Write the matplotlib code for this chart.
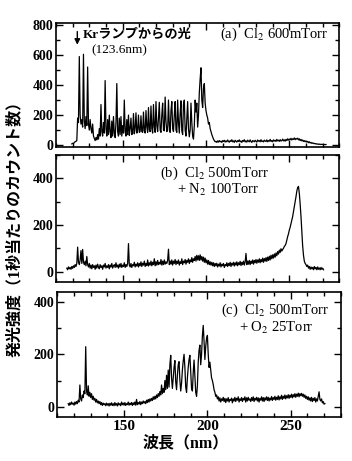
import numpy as np
import matplotlib
matplotlib.use("Agg")
import matplotlib.pyplot as plt
from matplotlib.ticker import MultipleLocator

plt.rcParams['font.family'] = ['Liberation Serif', 'Noto Sans CJK JP']
plt.rcParams['mathtext.fontset'] = 'stix'

# spectra, 0.5 nm steps
start_a = 119.5
cnt_a = [8, 12, 10, 18, 22, 25, 30, 180, 150, 590,
         200, 140, 170, 120, 605, 160, 110, 190, 130, 520,
         140, 100, 170, 110, 80, 140, 60, 45, 30, 50,
         35, 70, 40, 110, 60, 270, 90, 60, 150, 80,
         430, 110, 60, 170, 70, 200, 90, 50, 160, 60,
         190, 80, 50, 150, 410, 90, 60, 180, 70, 190,
         60, 130, 80, 300, 90, 60, 170, 70, 200, 65,
         110, 180, 70, 80, 210, 75, 110, 215, 80, 100,
         200, 85, 90, 195, 90, 85, 220, 95, 80, 230,
         120, 85, 250, 100, 90, 260, 110, 80, 270, 120,
         85, 290, 130, 90, 180, 285, 100, 85, 200, 280,
         100, 95, 320, 160, 90, 100, 300, 130, 85, 230,
         290, 110, 90, 200, 290, 100, 85, 300, 150, 80,
         210, 295, 95, 70, 270, 300, 100, 60, 180, 290,
         110, 55, 100, 280, 150, 60, 40, 130, 300, 220,
         280, 120, 200, 350, 440, 515, 300, 250, 380, 410,
         280, 230, 200, 180, 140, 150, 110, 90, 70, 55,
         40, 30, 22, 25, 18, 28, 20, 30, 22, 26,
         18, 30, 24, 32, 20, 28, 22, 34, 25, 19,
         30, 24, 36, 22, 28, 18, 32, 26, 20, 30,
         24, 35, 22, 27, 18, 31, 25, 36, 21, 28,
         20, 33, 26, 22, 35, 24, 18, 30, 27, 22,
         32, 25, 20, 34, 26, 30, 22, 36, 24, 28,
         21, 33, 27, 24, 35, 22, 30, 26, 38, 24,
         30, 22, 35, 27, 32, 24, 38, 28, 33, 25,
         36, 27, 30, 40, 28, 35, 26, 38, 30, 42,
         33, 40, 36, 45, 34, 42, 38, 48, 36, 44,
         40, 46, 35, 42, 30, 38, 28, 34, 24, 30,
         22, 28, 20, 25, 16, 22, 14, 18, 12, 15,
         10, 12, 8, 10, 6, 8, 5, 7, 4, 6,
         4, 5, 3, 4, 3, 4]

start_b = 116.5
cnt_b = [15, 8, 20, 12, 18, 10, 22, 14, 25, 18,
         30, 22, 35, 105, 40, 30, 50, 90, 35, 95,
         40, 30, 45, 25, 65, 30, 20, 35, 15, 28,
         12, 30, 18, 25, 10, 28, 15, 32, 20, 12,
         30, 18, 25, 10, 28, 20, 35, 15, 25, 18,
         30, 12, 28, 20, 35, 15, 25, 30, 18, 38,
         20, 28, 15, 32, 20, 35, 18, 28, 22, 38,
         18, 30, 22, 35, 120, 28, 20, 35, 18, 30,
         25, 40, 20, 32, 24, 38, 20, 35, 25, 42,
         22, 36, 28, 45, 22, 35, 26, 50, 24, 38,
         28, 45, 25, 40, 30, 55, 25, 42, 28, 48,
         30, 40, 32, 52, 28, 45, 30, 50, 32, 42,
         35, 48, 96, 30, 45, 32, 50, 28, 45, 35,
         52, 30, 45, 35, 50, 28, 42, 35, 55, 30,
         45, 38, 52, 32, 48, 40, 55, 35, 50, 42,
         60, 40, 55, 48, 65, 45, 70, 50, 68, 48,
         72, 50, 65, 45, 62, 40, 58, 38, 50, 32,
         48, 30, 42, 28, 40, 25, 38, 22, 35, 25,
         36, 20, 32, 24, 38, 20, 32, 25, 35, 18,
         30, 25, 38, 22, 35, 26, 40, 22, 36, 28,
         40, 24, 38, 28, 42, 25, 38, 30, 44, 26,
         40, 30, 45, 28, 42, 78, 30, 45, 32, 48,
         30, 45, 35, 50, 32, 48, 38, 52, 36, 50,
         40, 55, 38, 52, 42, 58, 40, 56, 45, 60,
         44, 62, 48, 66, 50, 70, 55, 72, 58, 76,
         62, 80, 68, 86, 75, 92, 82, 98, 88, 95,
         100, 108, 112, 120, 135, 150, 162, 178, 190, 205,
         220, 236, 258, 280, 300, 321, 345, 360, 365, 335,
         290, 236, 170, 110, 70, 45, 35, 30, 22, 28,
         15, 22, 10, 20, 12, 18, 8, 22, 12, 18,
         8, 20, 10, 16, 8, 18, 10, 15, 8]

start_c = 116.5
cnt_c = [12, 5, 15, 8, 18, 10, 14, 6, 18, 10,
         20, 12, 25, 18, 83, 30, 22, 45, 35, 60,
         50, 229, 60, 45, 80, 40, 55, 35, 50, 28,
         40, 25, 32, 18, 28, 15, 22, 12, 20, 8,
         16, 5, 14, 8, 12, 4, 14, 6, 12, 3,
         13, 6, 15, 5, 12, 4, 16, 6, 12, 3,
         15, 7, 12, 4, 18, 8, 14, 6, 16, 5,
         12, 8, 18, 6, 14, 8, 16, 5, 15, 8,
         18, 6, 28, 8, 16, 10, 20, 8, 18, 12,
         22, 14, 20, 12, 25, 16, 28, 18, 30, 22,
         32, 24, 38, 28, 40, 30, 45, 35, 50, 40,
         58, 45, 83, 50, 70, 55, 100, 65, 120, 70,
         140, 75, 160, 196, 110, 70, 110, 150, 176, 95,
         65, 120, 160, 172, 100, 60, 90, 140, 175, 200,
         150, 75, 55, 110, 150, 180, 196, 130, 70, 60,
         130, 178, 120, 55, 40, 80, 170, 215, 235, 160,
         200, 270, 310, 250, 180, 230, 260, 272, 200, 150,
         170, 140, 110, 100, 85, 65, 55, 40, 45, 30,
         38, 22, 34, 18, 30, 24, 36, 20, 32, 16,
         30, 22, 35, 18, 28, 24, 33, 15, 30, 22,
         36, 20, 32, 25, 38, 18, 30, 24, 35, 20,
         32, 26, 38, 18, 34, 22, 36, 25, 30, 20,
         35, 24, 38, 20, 32, 26, 36, 22, 34, 18,
         32, 25, 38, 22, 35, 20, 34, 26, 38, 24,
         36, 22, 33, 26, 39, 24, 35, 28, 40, 25,
         36, 28, 42, 26, 38, 30, 44, 28, 40, 32,
         45, 30, 42, 34, 46, 32, 44, 36, 48, 34,
         46, 38, 50, 36, 48, 40, 52, 38, 50, 42,
         51, 40, 48, 36, 45, 32, 40, 28, 38, 25,
         34, 22, 36, 20, 32, 24, 35, 18, 30, 22,
         40, 57, 28, 22, 30, 15, 20, 10, 12]

yticks_a = [0, 200, 400, 600, 800]
yticks_bc = [0, 200, 400]
xticks = [150, 200, 250]


def style_axis(ax, ylim, yticks, show_x):
    ax.set_xlim(110, 280)
    ax.set_ylim(*ylim)
    ax.set_yticks(yticks)
    ax.set_xticks(xticks)
    ax.xaxis.set_minor_locator(MultipleLocator(10))
    ax.yaxis.set_minor_locator(MultipleLocator(100))
    ax.tick_params(which='both', direction='in', top=True, right=True,
                   width=1.0)
    ax.tick_params(which='major', length=5)
    ax.tick_params(which='minor', length=3)
    ax.tick_params(axis='y', labelsize=10, pad=2)
    ax.tick_params(axis='x', labelsize=11, pad=2)
    for lab in ax.get_yticklabels() + ax.get_xticklabels():
        lab.set_fontweight('bold')
    if not show_x:
        ax.set_xticklabels([])
    for sp in ax.spines.values():
        sp.set_linewidth(1.2)


fig = plt.figure(figsize=(3.52, 4.61), dpi=100)
ax_a = fig.add_axes([0.159, 0.682, 0.805, 0.268])
ax_b = fig.add_axes([0.159, 0.389, 0.805, 0.275])
ax_c = fig.add_axes([0.163, 0.096, 0.805, 0.271])

for ax, start, cnt in [(ax_a, start_a, cnt_a), (ax_b, start_b, cnt_b),
                       (ax_c, start_c, cnt_c)]:
    wl = start + 0.5 * np.arange(len(cnt))
    ax.plot(wl, cnt, color='black', lw=0.9)

style_axis(ax_a, (-10, 813), yticks_a, False)
style_axis(ax_b, (-43, 500), yticks_bc, False)
style_axis(ax_c, (-38, 438), yticks_bc, True)

# panel labels
ax_a.text(0.96, 0.91, "(a)  Cl$_2$ 600mTorr", transform=ax_a.transAxes,
          ha='right', va='center', fontsize=10.5)
ax_b.text(0.558, 0.855, "(b)  Cl$_2$ 500mTorr", transform=ax_b.transAxes,
          ha='center', va='center', fontsize=10.5)
ax_b.text(0.572, 0.72, "+ N$_2$ 100Torr", transform=ax_b.transAxes,
          ha='center', va='center', fontsize=10.5)
ax_c.text(0.768, 0.85, "(c)  Cl$_2$ 500mTorr", transform=ax_c.transAxes,
          ha='center', va='center', fontsize=10.5)
ax_c.text(0.772, 0.71, "+ O$_2$ 25Torr", transform=ax_c.transAxes,
          ha='center', va='center', fontsize=10.5)

# Kr lamp line
ax_a.annotate('', xy=(122.8, 650), xytext=(122.8, 775),
              arrowprops=dict(arrowstyle='-|>', color='black', lw=1.0,
                              mutation_scale=8))
ax_a.text(126.0, 735, "Krランプからの光", ha='left', va='center',
          fontsize=9.5, fontweight='bold')
ax_a.text(131.5, 630, "(123.6nm)", ha='left', va='center', fontsize=9.5)

fig.text(0.043, 0.512, "発光強度（1秒当たりのカウント数）", rotation=90,
         ha='center', va='center', fontsize=11.5, fontweight='bold')
fig.text(0.528, 0.039, "波長（nm）", ha='center', va='center',
         fontsize=11.5, fontweight='bold')

plt.savefig("out.png", dpi=100)
